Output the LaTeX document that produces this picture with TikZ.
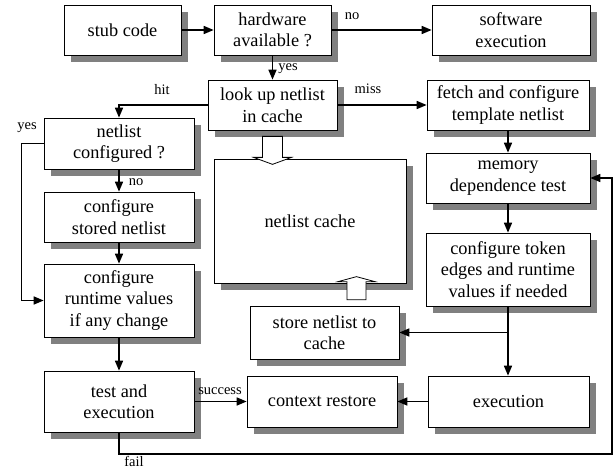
\documentclass[tikz,border=0pt]{standalone}
\usepackage{fontspec}
\setmainfont{Liberation Serif}
\newfontfamily\boxfont{Liberation Serif}
\usetikzlibrary{arrows.meta,shadows,calc}

\tikzset{
  block/.style={draw, fill=white, line width=0.7pt, align=center, inner sep=2pt,
    font=\boxfont\fontsize{18.3}{21.5}\selectfont,
    drop shadow={shadow xshift=7pt, shadow yshift=-7pt, fill=black!50, opacity=1}},
  flow/.style={line width=1.6pt, -{Triangle[length=10pt,width=8pt]}},
  lbl/.style={font=\boxfont\fontsize{14.5}{16}\selectfont, inner sep=0pt},
  hollow/.style={draw, fill=white, line width=0.8pt}
}

\begin{document}
\begin{tikzpicture}[x=1pt,y=-1pt]
  \useasboundingbox (0,0) rectangle (613,469);
  % Draw the boxes
  \node[block, minimum width=117pt, minimum height=50pt] (stub) at (122.5,30) {stub code};
  \node[block, minimum width=117pt, minimum height=50pt] (hw) at (272.5,30) {hardware\\available ?};
  \node[block, minimum width=158pt, minimum height=50pt] (sw) at (511,30) {software\\execution};
  \node[block, minimum width=129pt, minimum height=50pt] (lookup) at (272.5,105) {look up netlist\\in cache};
  \node[block, minimum width=162pt, minimum height=50pt] (fetch) at (508,105) {fetch and configure\\template netlist};
  \node[block, minimum width=150pt, minimum height=51pt] (cfgd) at (119,143.5) {netlist\\configured ?};
  \node[block, minimum width=150pt, minimum height=50pt] (stored) at (119,217) {configure\\stored netlist};
  \node[block, minimum width=150pt, minimum height=73pt] (runtime) at (119,300.5) {configure\\runtime values\\if any change};
  \node[block, minimum width=150pt, minimum height=61pt] (test) at (119,401.5) {test and\\execution};
  \node[block, minimum width=192pt, minimum height=124pt] (cache) at (310,221) {netlist cache};
  \node[block, minimum width=164pt, minimum height=50pt] (mem) at (508,178) {memory\\dependence test};
  \node[block, minimum width=164pt, minimum height=73pt] (token) at (508,269.5) {configure token\\edges and runtime\\values if needed};
  \node[block, minimum width=149pt, minimum height=53pt] (store) at (324.5,332.5) {store netlist to\\cache};
  \node[block, minimum width=150pt, minimum height=51pt] (restore) at (322,401.5) {context restore};
  \node[block, minimum width=161pt, minimum height=51pt] (exec) at (508.5,401.5) {execution};

  % Hollow arrows to and from the cache
  \draw[hollow] ($(lookup.south)+(-10,6)$) -- ++(0,21) -- ++(-9,0) -- ++(19,7)
    -- ++(19,-7) -- ++(-9,0) -- ++(0,-21) -- cycle;
  \draw[hollow] ($(store.north)+(22.5,-6)$) -- ++(0,-18) -- ++(-9,0) -- ++(18.5,-5)
    -- ++(18.5,5) -- ++(-9,0) -- ++(0,18) -- cycle;

  % Draw the flow arrows
  \draw[flow] (stub) -- (hw);
  \draw[flow] (hw) -- (sw);
  \draw[flow] (hw) -- (lookup);
  \draw[flow] (lookup) -- (fetch);
  \draw[flow] (lookup.west) -| (cfgd.north);
  \draw[flow] (cfgd) -- (stored);
  \draw[flow] (cfgd.west) -- ++(-22,0) |- (runtime.west);
  \draw[flow] (stored) -- (runtime);
  \draw[flow] (runtime) -- (test);
  \draw[flow] (test) -- (restore);
  \coordinate (failturn) at (612,454);
  \draw[flow] (test.south) |- (failturn) |- (mem.east);
  \draw[flow] (fetch) -- (mem);
  \draw[flow] (mem) -- (token);
  \draw[flow] (token.south) -- (exec.north -| token.south);
  \draw[flow] (token.south |- store.east) -- (store.east);
  \draw[flow] (exec) -- (restore);

  % Labels
  \node[lbl] (nolbl) at (352,16) {no};
  \node[lbl] (yeslbl) at (288,69) {yes};
  \node[lbl] (misslbl) at (368,89) {miss};
  \node[lbl] (hitlbl) at (162,90) {hit};
  \node[lbl] (yescfg) at (27,128) {yes};
  \node[lbl] (nocfg) at (136,182) {no};
  \node[lbl] (succlbl) at (220,391) {success};
  \node[lbl] (faillbl) at (134,461) {fail};
\end{tikzpicture}
\end{document}
